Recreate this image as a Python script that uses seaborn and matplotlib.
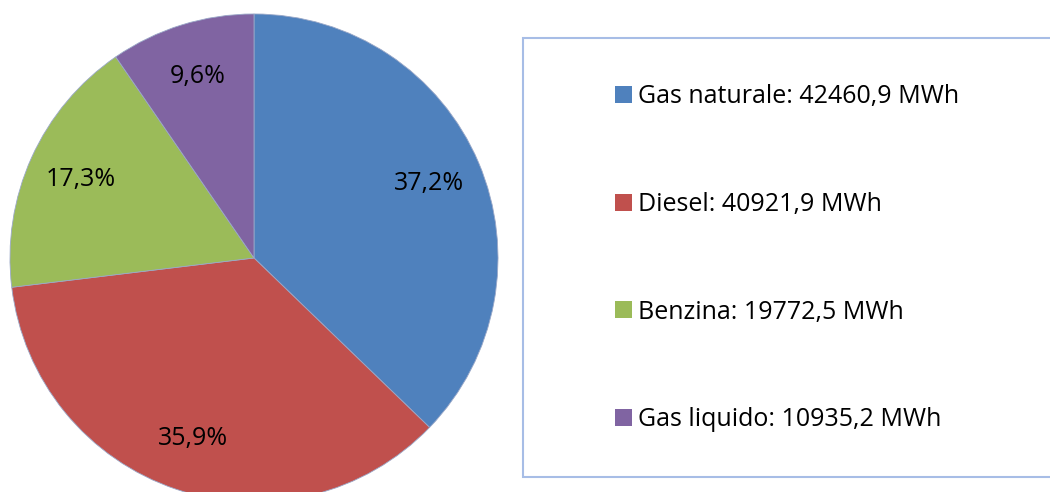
import matplotlib
matplotlib.use("Agg")
import matplotlib.pyplot as plt
import seaborn as sns
from matplotlib.patches import Rectangle

# Data
fuels = ["Gas naturale", "Diesel", "Benzina", "Gas liquido"]
energy_mwh = [42460.9, 40921.9, 19772.5, 10935.2]
colors = ["#4f81bd", "#c0504d", "#9bbb59", "#8064a2"]

sns.set_theme(style="white")
plt.rcParams["font.family"] = ["Open Sans", "DejaVu Sans"]

fig = plt.figure(figsize=(10.5, 4.92), dpi=100)
fig.patch.set_facecolor("white")

# Pie axes (square in pixels, partly below the bottom edge)
ax = fig.add_axes([0.0095, -0.0203, 0.4648, 0.9919])


def pct_fmt(p):
    return f"{p:.1f}%".replace(".", ",")


wedges, texts, autotexts = ax.pie(
    energy_mwh,
    colors=colors,
    startangle=90,
    counterclock=False,
    autopct=pct_fmt,
    pctdistance=0.78,
    radius=1,
    wedgeprops=dict(linewidth=0.6, edgecolor="#9aa8c8"),
    textprops=dict(fontsize=18, color="black"),
)
ax.set_xlim(-1, 1)
ax.set_ylim(-1, 1)
ax.set_aspect("equal")
ax.axis("off")

# Legend box
box = Rectangle((523 / 1050, 1 - 477 / 492), 540 / 1050, (477 - 38) / 492,
                transform=fig.transFigure, facecolor="white",
                edgecolor="#a7bde6", linewidth=1.5)
fig.patches.append(box)

labels = [f"{f}: {v:.1f} MWh".replace(".", ",") for f, v in zip(fuels, energy_mwh)]
fig.legend(wedges, labels, loc="upper left",
           bbox_to_anchor=(602 / 1050, 1 - 72 / 492),
           frameon=False, fontsize=18, handlelength=0.68, handleheight=0.68,
           handletextpad=0.24, labelspacing=3.3, borderpad=0,
           labelcolor="black")
for h in fig.legends[0].legend_handles:
    h.set_edgecolor("none")

fig.savefig("out.png", dpi=100, facecolor="white")
